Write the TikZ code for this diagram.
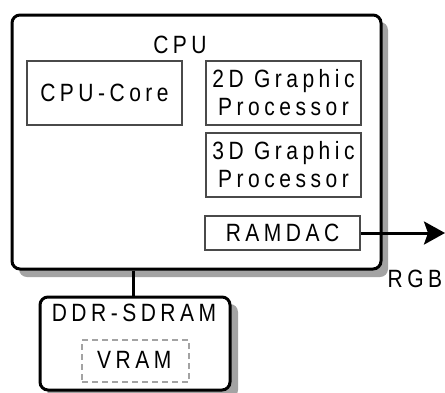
\documentclass[tikz,border=0pt]{standalone}
\usepackage{fontspec}
\setmainfont[LetterSpace=18, FakeStretch=0.84]{Liberation Sans}
\usetikzlibrary{arrows.meta}
\definecolor{shade}{HTML}{A3A3A3}
\definecolor{inner}{HTML}{4A4A4A}
\tikzset{
  every node/.style={font=\fontsize{25}{28}\selectfont},
  outerbox/.style={draw=black, line width=3pt, rounded corners=8pt, fill=white, inner sep=0pt},
  shadowbox/.style={fill=shade, rounded corners=8pt, draw=none},
  unitbox/.style={draw=inner, line width=2pt, fill=white, minimum width=155pt, inner sep=0pt, align=center},
  dashbox/.style={draw=shade, line width=2pt, dash pattern=on 6pt off 4pt, inner sep=0pt},
  caption/.style={inner sep=0pt},
  link/.style={line width=3pt, black}
}
\begin{document}
\begin{tikzpicture}[x=1pt, y=-1pt]
  \useasboundingbox (0,0) rectangle (445,392);

  % shadows
  \fill[shadowbox] (19,22) rectangle (388,277);
  \fill[shadowbox] (47,304) rectangle (238,398);

  % CPU package
  \node[outerbox, minimum width=369pt, minimum height=254pt] (cpu) at (196.5,142) {};
  \node[caption] (cpulbl) at (180,45) {CPU};

  \node[unitbox, minimum height=64pt] (core) at (104.5,93) {CPU-Core};
  \node[unitbox, minimum height=64pt] (g2d) at (283.5,93) {2D Graphic\\Processor};
  \node[unitbox, minimum height=64pt] (g3d) at (283.5,165) {3D Graphic\\Processor};
  \node[unitbox, minimum height=34pt] (dac) at (282.5,233) {RAMDAC};

  % output
  \coordinate (out) at (445,233);
  \draw[link, -{Stealth[length=21pt, width=23pt, inset=4pt]}] (dac.east) -- (out);
  \node[caption] (rgb) at (415,279) {RGB};

  % memory
  \node[outerbox, minimum width=190pt, minimum height=93pt] (ddr) at (135,343.5) {};
  \draw[link] (cpu.south -| 133,0) -- (ddr.north -| 133,0);
  \node[caption] (ddrlbl) at (134,313) {DDR-SDRAM};
  \node[dashbox, minimum width=107pt, minimum height=42pt] (vram) at (135.5,361) {};
  \node[caption, anchor=west] (vramlbl) at (97,360) {VRAM};
\end{tikzpicture}
\end{document}
